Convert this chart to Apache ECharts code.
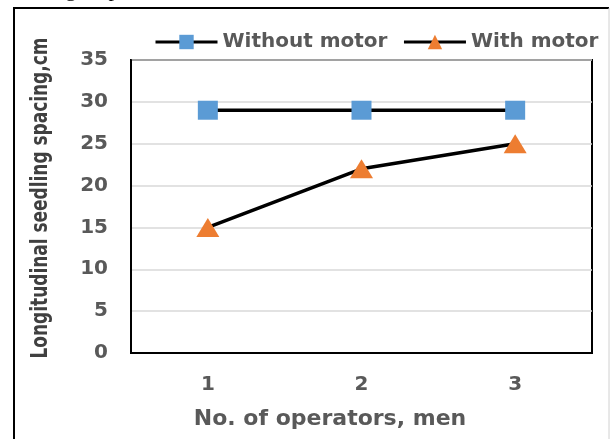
<!DOCTYPE html>
<html>
<head>
<meta charset="utf-8">
<script src="https://cdn.jsdelivr.net/npm/echarts@6/dist/echarts.min.js"></script>
<style>
html,body{margin:0;padding:0;background:#fff;}
#c{width:611px;height:439px;}
</style>
</head>
<body>
<div id="c"></div>
<script>
const categories = ['1', '2', '3'];
const withoutMotor = [29, 29, 29];
const withMotor = [15, 22, 25];
const seriesNames = ['Without motor', 'With motor'];
const xTitle = 'No. of operators, men';
const yTitle = 'Longitudinal seedling spacing,cm';
const topText = 'the engine power v two man.';

const chart = echarts.init(document.getElementById('c'), null, {renderer: 'canvas'});
const gray = '#595959';
const font = '"DejaVu Sans", sans-serif';

chart.setOption({
  animation: false,
  backgroundColor: '#fff',
  grid: {left: 131, right: 19, top: 60, bottom: 86, show: true, borderColor: '#000', borderWidth: 2, backgroundColor: 'transparent'},
  legend: {
    left: 154, top: 32, width: 457, orient: 'horizontal', padding: 0,
    itemWidth: 62, itemHeight: 18, itemGap: 15,
    lineStyle: {width: 3},
    textStyle: {color: gray, fontFamily: font, fontWeight: 'bold', fontSize: 20},
    data: seriesNames
  },
  xAxis: {
    type: 'category', data: categories, boundaryGap: true,
    axisLine: {show: true, lineStyle: {color: '#000', width: 2}},
    axisTick: {show: false},
    axisLabel: {color: gray, fontFamily: font, fontWeight: 'bold', fontSize: 20, margin: 22},
    splitLine: {show: false}
  },
  yAxis: {
    type: 'value', min: 0, max: 35, interval: 5,
    axisLine: {show: true, lineStyle: {color: '#000', width: 2}},
    axisTick: {show: false},
    axisLabel: {color: gray, fontFamily: font, fontWeight: 'bold', fontSize: 20, margin: 23},
    splitLine: {show: true, lineStyle: {color: '#D9D9D9', width: 1.5}}
  },
  graphic: [
    {type: 'line', shape: {x1: 13, y1: 8, x2: 609, y2: 8}, style: {stroke: '#000', lineWidth: 2}, silent: true},
    {type: 'line', shape: {x1: 14, y1: 8, x2: 14, y2: 445}, style: {stroke: '#000', lineWidth: 2}, silent: true},
    {type: 'line', shape: {x1: 609, y1: 8, x2: 609, y2: 445}, style: {stroke: '#d0d0d0', lineWidth: 1}, silent: true},
    {type: 'text', left: 12, top: -21, style: {text: topText, font: '22px "Liberation Serif", serif', fill: '#000'}, silent: true},
    {type: 'text', x: 41, y: 198, rotation: Math.PI / 2, scaleX: 0.82,
      style: {text: yTitle, align: 'center', verticalAlign: 'middle', fill: '#404040',
        font: 'bold 23px "Liberation Sans Narrow", "DejaVu Sans Condensed", sans-serif'}, silent: true},
    {type: 'text', x: 330, y: 419,
      style: {text: xTitle, align: 'center', verticalAlign: 'middle', fill: gray,
        font: 'bold 22px "DejaVu Sans", sans-serif'}, silent: true}
  ],
  series: [
    {
      name: seriesNames[0], type: 'line', data: withoutMotor,
      symbol: 'rect', symbolSize: [20, 19],
      itemStyle: {color: '#5B9BD5'},
      lineStyle: {color: '#000', width: 3.5}
    },
    {
      name: seriesNames[1], type: 'line', data: withMotor,
      symbol: 'triangle', symbolSize: [23, 19],
      itemStyle: {color: '#ED7D31'},
      lineStyle: {color: '#000', width: 3.5}
    }
  ]
});
</script>
</body>
</html>
